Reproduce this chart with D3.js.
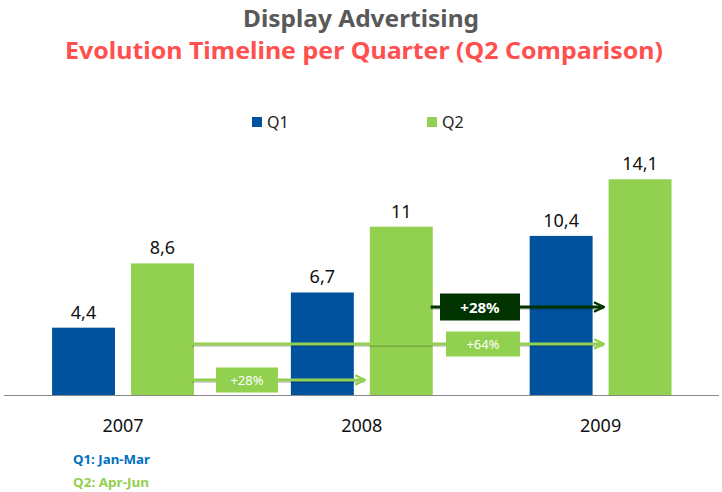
<!DOCTYPE html>
<html><head><meta charset="utf-8">
<script src="https://cdn.jsdelivr.net/npm/d3@7"></script>
<style>body{margin:0;background:#fff}svg{display:block}text{font-family:"Noto Sans",sans-serif}</style>
</head><body>
<svg id="c" width="722" height="492"></svg>
<script>
const years = ["2007","2008","2009"];
const quarters = ["Q1","Q2"];
const q1Values = [4.4, 6.7, 10.4];
const q2Values = [8.6, 11, 14.1];
const valueLabels = [["4,4","8,6"],["6,7","11"],["10,4","14,1"]];
const growthArrows = [
  {from:"2007", to:"2008", label:"+28%", dark:false},
  {from:"2007", to:"2009", label:"+64%", dark:false},
  {from:"2008", to:"2009", label:"+28%", dark:true}
];
const colors = {Q1:"#00529F", Q2:"#92D050"};

const svg = d3.select("#c");
const baseY = 395;
const x0 = d3.scaleBand().domain(years).range([3.6, 720]).padding(0);
const x1 = d3.scaleBand().domain(quarters).range([0, x0.bandwidth()]).paddingInner(16/79).paddingOuter(0.614);
const y = d3.scaleLinear().domain([0, 16]).range([baseY, baseY - 16*15.3]);

// titles
svg.append("text").attr("x",361).attr("y",27).attr("text-anchor","middle")
  .attr("font-size",23).attr("font-weight","bold").attr("fill","#595959")
  .attr("textLength",236).attr("lengthAdjust","spacingAndGlyphs").text("Display Advertising");
svg.append("text").attr("x",364).attr("y",59).attr("text-anchor","middle")
  .attr("font-size",23).attr("font-weight","bold").attr("fill","#FF5050")
  .attr("textLength",598).attr("lengthAdjust","spacingAndGlyphs").text("Evolution Timeline per Quarter (Q2 Comparison)");

// legend
const legPos = {Q1:252, Q2:427};
quarters.forEach(q=>{
  svg.append("rect").attr("x",legPos[q]).attr("y",117).attr("width",10).attr("height",10).attr("fill",colors[q]);
  svg.append("text").attr("x",legPos[q]+15).attr("y",127.5).attr("font-size",16).attr("fill","#222").text(q);
});

// bars
const data = years.map((yr,i)=>({year:yr, vals:[{q:"Q1",v:q1Values[i],l:valueLabels[i][0]},{q:"Q2",v:q2Values[i],l:valueLabels[i][1]}]}));
const g = svg.selectAll("g.yr").data(data).join("g").attr("transform",d=>`translate(${x0(d.year)},0)`);
g.selectAll("rect").data(d=>d.vals).join("rect")
  .attr("x",d=>x1(d.q)).attr("width",x1.bandwidth())
  .attr("y",d=>y(d.v)).attr("height",d=>baseY-y(d.v)).attr("fill",d=>colors[d.q]);
g.selectAll("text.v").data(d=>d.vals).join("text").attr("class","v")
  .attr("x",d=>x1(d.q)+x1.bandwidth()/2).attr("y",d=>y(d.v)-9)
  .attr("text-anchor","middle").attr("font-size",18).attr("fill","#111").text(d=>d.l);

// baseline
svg.append("line").attr("x1",4).attr("x2",719).attr("y1",baseY+0.5).attr("y2",baseY+0.5).attr("stroke","#888").attr("stroke-width",1);

// category labels
svg.selectAll("text.cat").data(years).join("text").attr("class","cat")
  .attr("x",d=>x0(d)+x0.bandwidth()/2).attr("y",432).attr("text-anchor","middle")
  .attr("font-size",18).attr("fill","#111").text(d=>d);

// arrows
const defs = svg.append("defs");
[["light","#92D050"],["dark","#003300"]].forEach(([id,c])=>{
  defs.append("marker").attr("id","ah-"+id).attr("viewBox","0 0 10 10").attr("refX",9).attr("refY",5)
    .attr("markerWidth",4).attr("markerHeight",4).attr("orient","auto").attr("markerUnits","strokeWidth")
    .append("path").attr("d","M1,1 L9,5 L1,9").attr("fill","none").attr("stroke",c).attr("stroke-width",2);
});
const q2x = yr => x0(yr) + x1("Q2");
const arrowY = [380, 344, 307];
const boxX = [[216,278],[446,520],[440,520]];
growthArrows.forEach((a,i)=>{
  const c = a.dark ? "#003300" : "#92D050";
  const sx = q2x(a.from) + x1.bandwidth() - 2;
  const ex = q2x(a.to) - 5;
  const yy = arrowY[i];
  svg.append("line").attr("x1",sx).attr("x2",ex).attr("y1",yy+1.5).attr("y2",yy+1.5)
    .attr("stroke","#000").attr("stroke-opacity",0.18).attr("stroke-width",3);
  svg.append("line").attr("x1",sx).attr("x2",ex).attr("y1",yy).attr("y2",yy)
    .attr("stroke",c).attr("stroke-width",3).attr("marker-end",`url(#ah-${a.dark?"dark":"light"})`);
  const [bx0,bx1] = boxX[i];
  const bh = a.dark ? 27 : 25;
  svg.append("rect").attr("x",bx0).attr("y",yy-bh/2).attr("width",bx1-bx0).attr("height",bh).attr("fill",c);
  svg.append("text").attr("x",(bx0+bx1)/2).attr("y",yy+(a.dark?5.5:4.5)).attr("text-anchor","middle")
    .attr("font-size",a.dark?15:13).attr("font-weight",a.dark?"bold":"normal").attr("fill","#fff").text(a.label);
});

// footnotes
svg.append("text").attr("x",73).attr("y",464).attr("font-size",12.5).attr("font-weight","bold").attr("fill","#0070C0")
  .attr("textLength",77).attr("lengthAdjust","spacingAndGlyphs").text("Q1: Jan-Mar");
svg.append("text").attr("x",73).attr("y",487).attr("font-size",12.5).attr("font-weight","bold").attr("fill","#92D050")
  .attr("textLength",76).attr("lengthAdjust","spacingAndGlyphs").text("Q2: Apr-Jun");
</script>
</body></html>
